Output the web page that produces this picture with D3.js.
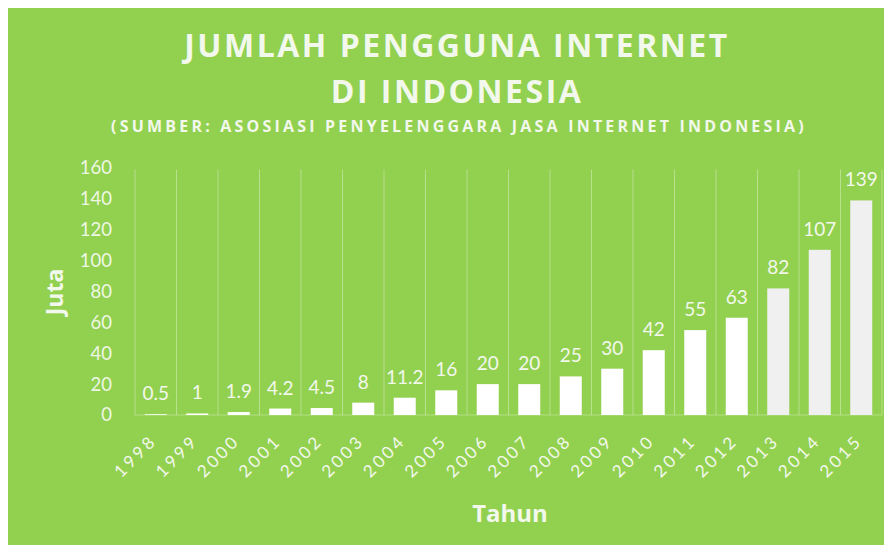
<!DOCTYPE html>
<html>
<head>
<meta charset="utf-8">
<script src="https://cdn.jsdelivr.net/npm/d3@7"></script>
<style>
  body { margin: 0; background: #fff; }
  svg { display: block; }
</style>
</head>
<body>
<script>
// data
const years = ["1998","1999","2000","2001","2002","2003","2004","2005","2006",
               "2007","2008","2009","2010","2011","2012","2013","2014","2015"];
const users = [0.5, 1, 1.9, 4.2, 4.5, 8, 11.2, 16, 20, 20, 25, 30, 42, 55, 63, 82, 107, 139];
const labels = ["0.5","1","1.9","4.2","4.5","8","11.2","16","20","20","25","30","42","55","63","82","107","139"];
const yTicks = [0, 20, 40, 60, 80, 100, 120, 140, 160];
const greyYears = ["2013", "2014", "2015"];

const W = 894, H = 552;
const margin = { top: 168, right: 12, bottom: 137, left: 135 };
const width = W - margin.left - margin.right,
      height = H - margin.top - margin.bottom;

const svg = d3.select("body").append("svg")
  .attr("width", W)
  .attr("height", H);

// green panel
svg.append("rect")
  .attr("x", 8).attr("y", 8)
  .attr("width", 876).attr("height", 537)
  .attr("fill", "#92D050");

const g = svg.append("g")
  .attr("transform", `translate(${margin.left},${margin.top})`);

const x = d3.scaleBand().domain(years).range([0, width]).paddingInner(0.47).paddingOuter(0.235);
const y = d3.scaleLinear().domain([0, 160]).range([height, 0]);

// vertical separators between categories
g.selectAll(".vline")
  .data(d3.range(years.length + 1))
  .enter().append("line")
  .attr("x1", i => i * width / years.length)
  .attr("x2", i => i * width / years.length)
  .attr("y1", y(159))
  .attr("y2", y(0))
  .attr("stroke", "#fff")
  .attr("stroke-opacity", 0.35)
  .attr("stroke-width", 1);

// bottom baseline
g.append("line")
  .attr("x1", 0).attr("x2", width)
  .attr("y1", y(0)).attr("y2", y(0))
  .attr("stroke", "#fff").attr("stroke-opacity", 0.3);

// bars
g.selectAll(".bar")
  .data(years)
  .enter().append("rect")
  .attr("class", "bar")
  .attr("x", d => x(d))
  .attr("width", x.bandwidth())
  .attr("y", (d, i) => y(users[i]))
  .attr("height", (d, i) => y(0) - y(users[i]))
  .attr("fill", d => greyYears.includes(d) ? "#F0F0F0" : "#FFFFFF");

// data labels
g.selectAll(".lbl")
  .data(years)
  .enter().append("text")
  .attr("x", d => x(d) + x.bandwidth() / 2)
  .attr("y", (d, i) => y(users[i]) - 14)
  .attr("text-anchor", "middle")
  .style("font-family", "Lato, 'Open Sans', sans-serif")
  .style("font-size", "19px")
  .style("fill", "#F3F8EC")
  .text((d, i) => labels[i]);

// y axis tick labels
const yAxis = g.append("g")
  .call(d3.axisLeft(y).tickValues(yTicks).tickSize(0).tickPadding(23));
yAxis.select(".domain").remove();
yAxis.selectAll("text")
  .style("font-family", "Lato, 'Open Sans', sans-serif")
  .style("font-size", "18.5px")
  .style("fill", "#EEF7E4");

// x axis labels, rotated
const xAxis = g.append("g")
  .attr("transform", `translate(0,${height})`)
  .call(d3.axisBottom(x).tickSize(0).tickPadding(0));
xAxis.select(".domain").remove();
xAxis.selectAll("text")
  .attr("text-anchor", "end")
  .attr("dy", 0)
  .attr("transform", "translate(2,27) rotate(-45)")
  .style("font-family", "Lato, 'Open Sans', sans-serif")
  .style("font-size", "17px")
  .style("letter-spacing", "3px")
  .style("fill", "#F3F8EC");

// axis titles
svg.append("text")
  .attr("transform", "translate(63,292) rotate(-90)")
  .attr("text-anchor", "middle")
  .style("font-family", "'Open Sans', sans-serif")
  .style("font-weight", "bold")
  .style("font-size", "23px")
  .style("fill", "#F3F8EC")
  .text("Juta");

svg.append("text")
  .attr("x", 510).attr("y", 522)
  .attr("text-anchor", "middle")
  .style("font-family", "'Open Sans', sans-serif")
  .style("font-weight", "bold")
  .style("font-size", "24px")
  .style("fill", "#F3F8EC")
  .text("Tahun");

// titles
const title = svg.append("text")
  .attr("text-anchor", "middle")
  .style("font-family", "'Open Sans', sans-serif")
  .style("font-weight", "bold")
  .style("font-size", "32px")
  .style("letter-spacing", "2.5px")
  .style("fill", "#F3F8EC");
title.append("tspan").attr("x", 457).attr("y", 57).text("JUMLAH PENGGUNA INTERNET");
title.append("tspan").attr("x", 457).attr("y", 103).text("DI INDONESIA");

svg.append("text")
  .attr("x", 459).attr("y", 132)
  .attr("text-anchor", "middle")
  .style("font-family", "'Open Sans', sans-serif")
  .style("font-weight", "bold")
  .style("font-size", "16px")
  .style("letter-spacing", "3.2px")
  .style("fill", "#F3F8EC")
  .text("(SUMBER: ASOSIASI PENYELENGGARA JASA INTERNET INDONESIA)");
</script>
</body>
</html>
